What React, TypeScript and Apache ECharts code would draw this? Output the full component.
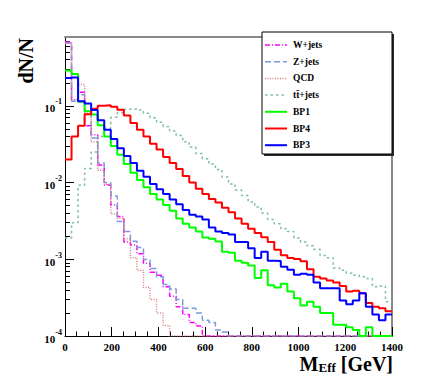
import React, { useEffect, useRef } from "react";
import * as echarts from "echarts";

const FONT = '"Liberation Serif", "Times New Roman", serif';

// Histogram binning: 50 bins of 28 GeV between 0 and 1400 GeV
const binWidth = 28;
const xMin = 0;
const xMax = 1400;
const yMin = 1e-4;
const yMax = 0.79;

const seriesNames = ["W+jets", "Z+jets", "QCD", "t\u0074\u0304+jets", "BP1", "BP4", "BP3"];

// dN/N per bin (0 = empty bin)
const wJets = [
  0.68, 0.12, 0.15, 0.055, 0.042, 0.017, 0.0093, 0.0051, 0.0036, 0.00168,
  0.00153, 0.00118, 0.00089, 0.00068, 0.00062, 0.00044, 0.00033, 0.00024, 0.00019, 0.00015,
  0.000135, 0, 0, 0, 0, 0, 0, 0, 0, 0,
  0, 0, 0, 0, 0, 0, 0, 0, 0, 0,
  0, 0, 0, 0, 0, 0, 0, 0, 0, 0,
];
const zJets = [
  0.66, 0.115, 0.14, 0.086, 0.038, 0.018, 0.010, 0.0067, 0.0031, 0.0023,
  0.00172, 0.00142, 0.00099, 0.00076, 0.00059, 0.00047, 0.00041, 0.0003, 0.00023, 0.00023,
  0.0002, 0.00016, 0.00015, 0.00012, 0.000113, 0, 0, 0, 0, 0,
  0, 0, 0, 0, 0, 0, 0, 0, 0, 0,
  0, 0, 0, 0, 0, 0, 0, 0, 0, 0,
];
const qcd = [
  0.65, 0.12, 0.19, 0.08, 0.034, 0.0145, 0.0095, 0.0039, 0.0034, 0.00185,
  0.00105, 0.00072, 0.00043, 0.0003, 0.0002, 0.000137, 0, 0, 0, 0,
  0, 0, 0, 0, 0, 0, 0, 0, 0, 0,
  0, 0, 0, 0, 0, 0, 0, 0, 0, 0,
  0, 0, 0, 0, 0, 0, 0, 0, 0, 0,
];
const ttJets = [
  0.0019, 0.003, 0.0092, 0.0153, 0.025, 0.04, 0.051, 0.071, 0.082, 0.09,
  0.091, 0.088, 0.08, 0.07, 0.061, 0.054, 0.047, 0.041, 0.034, 0.029,
  0.024, 0.0205, 0.0174, 0.0148, 0.0118, 0.0096, 0.008, 0.0068, 0.0056, 0.0048,
  0.004, 0.0033, 0.0029, 0.0025, 0.0023, 0.0019, 0.00168, 0.0015, 0.00135, 0.00112,
  0.00105, 0.00077, 0.00072, 0.00066, 0.00062, 0.00059, 0.00056, 0.00044, 0.00045, 0.00028,
];
const bp1 = [
  0.29, 0.26, 0.113, 0.085, 0.077, 0.056, 0.04, 0.03, 0.023, 0.0175,
  0.0134, 0.0108, 0.0087, 0.0071, 0.006, 0.0051, 0.0043, 0.0034, 0.0029, 0.0026,
  0.0023, 0.00193, 0.00185, 0.0017, 0.00125, 0.00122, 0.00096, 0.0009, 0.00083, 0.00057,
  0.00072, 0.00046, 0.00043, 0.00048, 0.00038, 0.00031, 0.00025, 0.00028, 0.00024, 0.0002,
  0.0002, 0.00014, 0.00014, 0.00013, 0.00012, 0, 0.00013, 0, 0, 0,
];
const bp4 = [
  0.02, 0.04, 0.055, 0.078, 0.092, 0.1, 0.102, 0.097, 0.089, 0.075,
  0.06, 0.049, 0.04, 0.032, 0.027, 0.0215, 0.018, 0.015, 0.0122, 0.01,
  0.0083, 0.0071, 0.0061, 0.0055, 0.0047, 0.0041, 0.0034, 0.0029, 0.0025, 0.0022,
  0.00194, 0.00168, 0.00133, 0.00113, 0.00104, 0.00101, 0.00094, 0.00074, 0.00059, 0.00056,
  0.00053, 0.0005, 0.00045, 0.00038, 0.00039, 0.00036, 0.00027, 0.00024, 0.00023, 0.00021,
];
const bp3 = [
  0.23, 0.235, 0.115, 0.107, 0.088, 0.065, 0.049, 0.037, 0.028, 0.0222,
  0.018, 0.0143, 0.0119, 0.0096, 0.0082, 0.0071, 0.006, 0.0052, 0.0044, 0.0038,
  0.0036, 0.0033, 0.0026, 0.0023, 0.0022, 0.0021, 0.00168, 0.00168, 0.00139, 0.00104,
  0.00125, 0.00096, 0.00095, 0.0008, 0.00073, 0.00063, 0.00065, 0.00063, 0.0005, 0.00042,
  0.00042, 0.00042, 0.00029, 0.00026, 0.00029, 0.00036, 0.00024, 0.00019, 0.00016, 0.00019,
];

const histograms = [wJets, zJets, qcd, ttJets, bp1, bp4, bp3];
const colors = ["#ff00ff", "#7b9bdb", "#d98080", "#7fbf9f", "#00ff00", "#ff0000", "#0000ff"];
const widths = [1.5, 1.5, 1.5, 1.5, 2, 2, 2];
const dashes: any[] = [[5, 2, 1, 2], [6, 3], [1, 1.5], [2.5, 3], "solid", "solid", "solid"];

const xTickInterval = 200;
const yMajorTicks = [1e-4, 1e-3, 1e-2, 1e-1];
const yMinorTicks: number[] = [];
for (const d of yMajorTicks) {
  for (let m = 2; m <= 9; m++) {
    const v = m * d;
    if (v < yMax) yMinorTicks.push(v);
  }
}

const toSteps = (vals: number[]) => {
  const pts = vals.map((v, i) => [i * binWidth, Math.max(v, yMin)]);
  pts.push([vals.length * binWidth, Math.max(vals[vals.length - 1], yMin)]);
  return pts;
};

// legend box layout
const LEG = { x: 262, y: 32, w: 130, h: 122, firstRow: 45, rowH: 16.7, lineX1: 265, lineX2: 287, textX: 293 };

export default function App() {
  const ref = useRef<HTMLDivElement>(null);
  useEffect(() => {
    document.body.style.margin = "0";
    const chart = echarts.init(ref.current!, null, { renderer: "svg" });
    const logAxisBase = {
      type: "log" as const,
      logBase: 10,
      min: yMin,
      max: yMax,
      splitLine: { show: false },
    };
    const legendGraphics: any[] = [
      {
        type: "rect",
        shape: { x: LEG.x + 2, y: LEG.y + 2, width: LEG.w, height: LEG.h },
        style: { fill: "#2a2a2a" },
        z: 20,
      },
      {
        type: "rect",
        shape: { x: LEG.x, y: LEG.y, width: LEG.w, height: LEG.h },
        style: { fill: "#fff", stroke: "#000", lineWidth: 1 },
        z: 21,
      },
    ];
    seriesNames.forEach((name, i) => {
      const y = LEG.firstRow + LEG.rowH * i;
      legendGraphics.push({
        type: "line",
        shape: { x1: LEG.lineX1, y1: y, x2: LEG.lineX2, y2: y },
        style: {
          stroke: colors[i],
          lineWidth: widths[i],
          lineDash: Array.isArray(dashes[i]) ? dashes[i] : null,
        },
        z: 22,
      });
      legendGraphics.push({
        type: "text",
        x: LEG.textX,
        y,
        style: {
          text: name,
          font: `bold 9.5px ${FONT}`,
          fill: "#000",
          textAlign: "left",
          textVerticalAlign: "middle",
          align: "left",
          verticalAlign: "middle",
        },
        z: 22,
      });
    });

    const option: any = {
      animation: false,
      textStyle: { fontFamily: FONT },
      grid: { left: 65, right: 44, top: 37, bottom: 46 },
      xAxis: [
        {
          type: "value",
          min: xMin,
          max: xMax,
          interval: xTickInterval,
          position: "bottom",
          axisLine: { lineStyle: { color: "#000", width: 1 } },
          axisTick: { inside: true, length: 9, lineStyle: { color: "#000" } },
          minorTick: { show: true, splitNumber: 4, length: 4.5, lineStyle: { color: "#000" } },
          axisLabel: {
            fontFamily: FONT,
            fontWeight: "bold",
            fontSize: 11,
            color: "#000",
            margin: 5,
            formatter: (v: number) => String(v),
          },
          splitLine: { show: false },
        },
        {
          type: "value",
          min: xMin,
          max: xMax,
          position: "top",
          axisLine: { lineStyle: { color: "#888", width: 2 } },
          axisTick: { show: false },
          axisLabel: { show: false },
          splitLine: { show: false },
        },
      ],
      yAxis: [
        {
          ...logAxisBase,
          position: "left",
          axisLine: { show: true, lineStyle: { color: "#000", width: 1 } },
          axisTick: { show: true, inside: true, length: 9, customValues: yMajorTicks, lineStyle: { color: "#000" } },
          axisLabel: {
            customValues: yMajorTicks,
            margin: 3,
            formatter: (v: number) => `{b|10}{e|${Math.round(Math.log10(v))}}`,
            rich: {
              b: { fontFamily: FONT, fontWeight: "bold", fontSize: 11, lineHeight: 16, verticalAlign: "bottom", color: "#000" },
              e: { fontFamily: FONT, fontWeight: "bold", fontSize: 8, lineHeight: 9, verticalAlign: "top", color: "#000" },
            },
          },
        },
        {
          ...logAxisBase,
          position: "left",
          axisLine: { show: false },
          axisTick: { show: true, inside: true, length: 5, customValues: yMinorTicks, lineStyle: { color: "#000" } },
          axisLabel: { show: false },
        },
        {
          ...logAxisBase,
          position: "right",
          axisLine: { show: true, lineStyle: { color: "#888", width: 2 } },
          axisTick: { show: false },
          axisLabel: { show: false },
        },
      ],
      series: histograms.map((h, i) => ({
        type: "line",
        name: seriesNames[i],
        data: toSteps(h),
        step: "end",
        symbol: "none",
        xAxisIndex: 0,
        yAxisIndex: 0,
        clip: true,
        lineStyle: { color: colors[i], width: widths[i], type: dashes[i] },
        itemStyle: { color: colors[i] },
        z: 2 + i * 0.01,
      })),
      graphic: [
        {
          type: "text",
          x: 26,
          y: 38,
          rotation: Math.PI / 2,
          style: {
            text: "dN/N",
            font: `bold 20px ${FONT}`,
            fill: "#000",
            textAlign: "right",
            textVerticalAlign: "middle",
            align: "right",
            verticalAlign: "middle",
          },
        },
        {
          type: "text",
          x: 393,
          y: 354,
          style: {
            text: "{m|M}{s|Eff}{m| [GeV]}",
            fill: "#000",
            textAlign: "right",
            textVerticalAlign: "top",
            align: "right",
            verticalAlign: "top",
            rich: {
              m: { fontFamily: FONT, fontWeight: "bold", fontSize: 20, lineHeight: 20, verticalAlign: "top", fill: "#000" },
              s: { fontFamily: FONT, fontWeight: "bold", fontSize: 13, lineHeight: 13, verticalAlign: "bottom", padding: [14, 0, 0, 0], fill: "#000" },
            },
          },
        },
        ...legendGraphics,
      ],
    };
    chart.setOption(option);
    return () => chart.dispose();
  }, []);
  return <div ref={ref} style={{ width: 436, height: 382 }} />;
}
